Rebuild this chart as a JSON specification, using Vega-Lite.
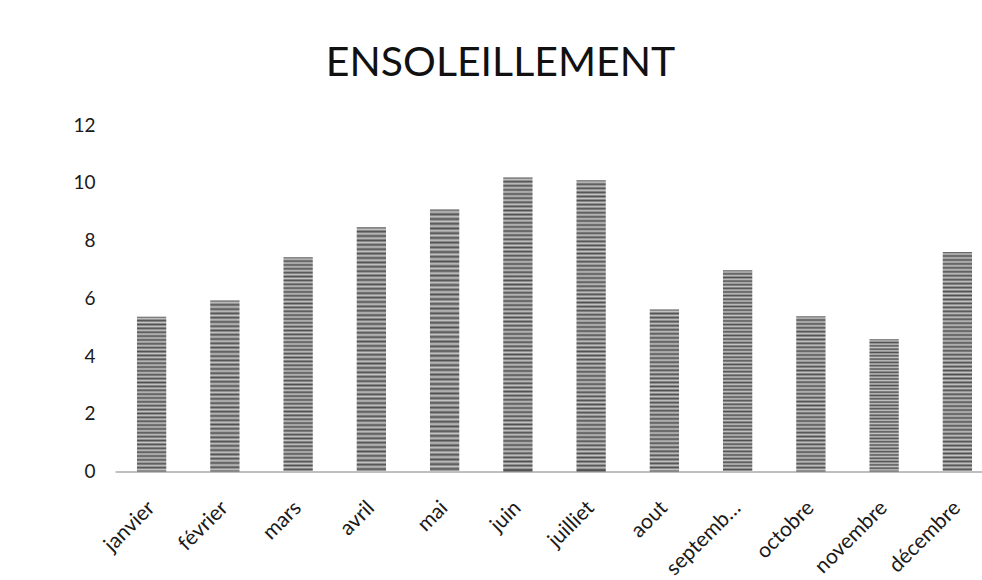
{
  "$schema": "https://vega.github.io/schema/vega-lite/v6.json",
  "autosize": "none",
  "width": 867,
  "height": 346.5,
  "padding": {"left": 115, "top": 125, "right": 0, "bottom": 108.5},
  "background": "white",
  "config": {"view": {"stroke": null}},
  "title": {
    "text": "ENSOLEILLEMENT",
    "font": "Lato",
    "fontSize": 41,
    "fontWeight": "normal",
    "color": "#111111",
    "anchor": "middle",
    "baseline": "alphabetic",
    "offset": -1,
    "dx": -48
  },
  "data": {
    "values": [
      {"mois": "janvier", "valeur": 5.36},
      {"mois": "février", "valeur": 5.92},
      {"mois": "mars", "valeur": 7.42},
      {"mois": "avril", "valeur": 8.46},
      {"mois": "mai", "valeur": 9.07},
      {"mois": "juin", "valeur": 10.18},
      {"mois": "juilliet", "valeur": 10.09},
      {"mois": "aout", "valeur": 5.61},
      {"mois": "septembre", "valeur": 6.97},
      {"mois": "octobre", "valeur": 5.38},
      {"mois": "novembre", "valeur": 4.58},
      {"mois": "décembre", "valeur": 7.6}
    ]
  },
  "mark": {"type": "bar"},
  "encoding": {
    "x": {
      "field": "mois",
      "type": "nominal",
      "sort": null,
      "scale": {"paddingInner": 0.6, "paddingOuter": 0.218, "align": 0.688},
      "axis": {
        "title": null,
        "ticks": false,
        "domainColor": "#bfbfbf",
        "domainWidth": 2,
        "labelAngle": -45,
        "labelAlign": "right",
        "labelBaseline": "middle",
        "labelPadding": 33,
        "labelFont": "Lato",
        "labelFontSize": 21,
        "labelColor": "#1a1a1a",
        "labelOverlap": false,
        "labelLimit": 200,
        "labelExpr": "datum.label == 'septembre' ? 'septemb…' : datum.label"
      }
    },
    "y": {
      "field": "valeur",
      "type": "quantitative",
      "scale": {"domain": [0, 12], "nice": false},
      "axis": {
        "title": null,
        "domain": false,
        "ticks": false,
        "grid": false,
        "values": [0, 2, 4, 6, 8, 10, 12],
        "labelPadding": 20,
        "labelFont": "Lato",
        "labelFontSize": 19,
        "labelColor": "#1a1a1a"
      }
    },
    "color": {
      "condition": [
        {
          "test": "datum.valeur > 9.5",
          "value": {
            "gradient": "linear", "x1": 0, "y1": 0, "x2": 0, "y2": 1,
            "stops": [
              {"offset":0,"color":"#505050"},{"offset":0.007,"color":"#c4c4c4"},{"offset":0.014,"color":"#505050"},{"offset":0.021,"color":"#c4c4c4"},{"offset":0.028,"color":"#505050"},{"offset":0.035,"color":"#c4c4c4"},{"offset":0.042,"color":"#505050"},{"offset":0.049,"color":"#c4c4c4"},{"offset":0.056,"color":"#505050"},{"offset":0.063,"color":"#c4c4c4"},
              {"offset":0.07,"color":"#505050"},{"offset":0.077,"color":"#c4c4c4"},{"offset":0.084,"color":"#505050"},{"offset":0.091,"color":"#c4c4c4"},{"offset":0.098,"color":"#505050"},{"offset":0.105,"color":"#c4c4c4"},{"offset":0.112,"color":"#505050"},{"offset":0.119,"color":"#c4c4c4"},{"offset":0.126,"color":"#505050"},{"offset":0.133,"color":"#c4c4c4"},
              {"offset":0.14,"color":"#505050"},{"offset":0.147,"color":"#c4c4c4"},{"offset":0.154,"color":"#505050"},{"offset":0.161,"color":"#c4c4c4"},{"offset":0.168,"color":"#505050"},{"offset":0.175,"color":"#c4c4c4"},{"offset":0.182,"color":"#505050"},{"offset":0.189,"color":"#c4c4c4"},{"offset":0.196,"color":"#505050"},{"offset":0.203,"color":"#c4c4c4"},
              {"offset":0.21,"color":"#505050"},{"offset":0.217,"color":"#c4c4c4"},{"offset":0.224,"color":"#505050"},{"offset":0.231,"color":"#c4c4c4"},{"offset":0.238,"color":"#505050"},{"offset":0.245,"color":"#c4c4c4"},{"offset":0.252,"color":"#505050"},{"offset":0.259,"color":"#c4c4c4"},{"offset":0.266,"color":"#505050"},{"offset":0.273,"color":"#c4c4c4"},
              {"offset":0.28,"color":"#505050"},{"offset":0.287,"color":"#c4c4c4"},{"offset":0.294,"color":"#505050"},{"offset":0.301,"color":"#c4c4c4"},{"offset":0.308,"color":"#505050"},{"offset":0.315,"color":"#c4c4c4"},{"offset":0.322,"color":"#505050"},{"offset":0.329,"color":"#c4c4c4"},{"offset":0.336,"color":"#505050"},{"offset":0.343,"color":"#c4c4c4"},
              {"offset":0.35,"color":"#505050"},{"offset":0.357,"color":"#c4c4c4"},{"offset":0.364,"color":"#505050"},{"offset":0.371,"color":"#c4c4c4"},{"offset":0.378,"color":"#505050"},{"offset":0.385,"color":"#c4c4c4"},{"offset":0.392,"color":"#505050"},{"offset":0.399,"color":"#c4c4c4"},{"offset":0.406,"color":"#505050"},{"offset":0.413,"color":"#c4c4c4"},
              {"offset":0.42,"color":"#505050"},{"offset":0.427,"color":"#c4c4c4"},{"offset":0.434,"color":"#505050"},{"offset":0.441,"color":"#c4c4c4"},{"offset":0.448,"color":"#505050"},{"offset":0.455,"color":"#c4c4c4"},{"offset":0.462,"color":"#505050"},{"offset":0.469,"color":"#c4c4c4"},{"offset":0.476,"color":"#505050"},{"offset":0.483,"color":"#c4c4c4"},
              {"offset":0.49,"color":"#505050"},{"offset":0.497,"color":"#c4c4c4"},{"offset":0.504,"color":"#505050"},{"offset":0.511,"color":"#c4c4c4"},{"offset":0.518,"color":"#505050"},{"offset":0.525,"color":"#c4c4c4"},{"offset":0.532,"color":"#505050"},{"offset":0.539,"color":"#c4c4c4"},{"offset":0.546,"color":"#505050"},{"offset":0.553,"color":"#c4c4c4"},
              {"offset":0.56,"color":"#505050"},{"offset":0.567,"color":"#c4c4c4"},{"offset":0.574,"color":"#505050"},{"offset":0.581,"color":"#c4c4c4"},{"offset":0.588,"color":"#505050"},{"offset":0.595,"color":"#c4c4c4"},{"offset":0.602,"color":"#505050"},{"offset":0.609,"color":"#c4c4c4"},{"offset":0.616,"color":"#505050"},{"offset":0.623,"color":"#c4c4c4"},
              {"offset":0.63,"color":"#505050"},{"offset":0.637,"color":"#c4c4c4"},{"offset":0.644,"color":"#505050"},{"offset":0.651,"color":"#c4c4c4"},{"offset":0.658,"color":"#505050"},{"offset":0.665,"color":"#c4c4c4"},{"offset":0.672,"color":"#505050"},{"offset":0.679,"color":"#c4c4c4"},{"offset":0.686,"color":"#505050"},{"offset":0.693,"color":"#c4c4c4"},
              {"offset":0.7,"color":"#505050"},{"offset":0.707,"color":"#c4c4c4"},{"offset":0.714,"color":"#505050"},{"offset":0.721,"color":"#c4c4c4"},{"offset":0.728,"color":"#505050"},{"offset":0.735,"color":"#c4c4c4"},{"offset":0.742,"color":"#505050"},{"offset":0.749,"color":"#c4c4c4"},{"offset":0.756,"color":"#505050"},{"offset":0.763,"color":"#c4c4c4"},
              {"offset":0.77,"color":"#505050"},{"offset":0.777,"color":"#c4c4c4"},{"offset":0.784,"color":"#505050"},{"offset":0.791,"color":"#c4c4c4"},{"offset":0.798,"color":"#505050"},{"offset":0.805,"color":"#c4c4c4"},{"offset":0.812,"color":"#505050"},{"offset":0.819,"color":"#c4c4c4"},{"offset":0.826,"color":"#505050"},{"offset":0.833,"color":"#c4c4c4"},
              {"offset":0.84,"color":"#505050"},{"offset":0.847,"color":"#c4c4c4"},{"offset":0.854,"color":"#505050"},{"offset":0.861,"color":"#c4c4c4"},{"offset":0.868,"color":"#505050"},{"offset":0.875,"color":"#c4c4c4"},{"offset":0.882,"color":"#505050"},{"offset":0.889,"color":"#c4c4c4"},{"offset":0.896,"color":"#505050"},{"offset":0.903,"color":"#c4c4c4"},
              {"offset":0.91,"color":"#505050"},{"offset":0.917,"color":"#c4c4c4"},{"offset":0.924,"color":"#505050"},{"offset":0.931,"color":"#c4c4c4"},{"offset":0.938,"color":"#505050"},{"offset":0.945,"color":"#c4c4c4"},{"offset":0.952,"color":"#505050"},{"offset":0.959,"color":"#c4c4c4"},{"offset":0.966,"color":"#505050"},{"offset":0.973,"color":"#c4c4c4"},
              {"offset":0.98,"color":"#505050"},{"offset":0.987,"color":"#c4c4c4"},{"offset":0.994,"color":"#505050"}
            ]
          }
        },
        {
          "test": "datum.valeur > 6.5",
          "value": {
            "gradient": "linear", "x1": 0, "y1": 0, "x2": 0, "y2": 1,
            "stops": [
              {"offset":0,"color":"#505050"},{"offset":0.009,"color":"#c4c4c4"},{"offset":0.018,"color":"#505050"},{"offset":0.027,"color":"#c4c4c4"},{"offset":0.036,"color":"#505050"},{"offset":0.045,"color":"#c4c4c4"},{"offset":0.054,"color":"#505050"},{"offset":0.063,"color":"#c4c4c4"},{"offset":0.072,"color":"#505050"},{"offset":0.081,"color":"#c4c4c4"},
              {"offset":0.09,"color":"#505050"},{"offset":0.099,"color":"#c4c4c4"},{"offset":0.108,"color":"#505050"},{"offset":0.117,"color":"#c4c4c4"},{"offset":0.126,"color":"#505050"},{"offset":0.135,"color":"#c4c4c4"},{"offset":0.144,"color":"#505050"},{"offset":0.153,"color":"#c4c4c4"},{"offset":0.162,"color":"#505050"},{"offset":0.171,"color":"#c4c4c4"},
              {"offset":0.18,"color":"#505050"},{"offset":0.189,"color":"#c4c4c4"},{"offset":0.198,"color":"#505050"},{"offset":0.207,"color":"#c4c4c4"},{"offset":0.216,"color":"#505050"},{"offset":0.225,"color":"#c4c4c4"},{"offset":0.234,"color":"#505050"},{"offset":0.243,"color":"#c4c4c4"},{"offset":0.252,"color":"#505050"},{"offset":0.261,"color":"#c4c4c4"},
              {"offset":0.27,"color":"#505050"},{"offset":0.279,"color":"#c4c4c4"},{"offset":0.288,"color":"#505050"},{"offset":0.297,"color":"#c4c4c4"},{"offset":0.306,"color":"#505050"},{"offset":0.315,"color":"#c4c4c4"},{"offset":0.324,"color":"#505050"},{"offset":0.333,"color":"#c4c4c4"},{"offset":0.342,"color":"#505050"},{"offset":0.351,"color":"#c4c4c4"},
              {"offset":0.36,"color":"#505050"},{"offset":0.369,"color":"#c4c4c4"},{"offset":0.378,"color":"#505050"},{"offset":0.387,"color":"#c4c4c4"},{"offset":0.396,"color":"#505050"},{"offset":0.405,"color":"#c4c4c4"},{"offset":0.414,"color":"#505050"},{"offset":0.423,"color":"#c4c4c4"},{"offset":0.432,"color":"#505050"},{"offset":0.441,"color":"#c4c4c4"},
              {"offset":0.45,"color":"#505050"},{"offset":0.459,"color":"#c4c4c4"},{"offset":0.468,"color":"#505050"},{"offset":0.477,"color":"#c4c4c4"},{"offset":0.486,"color":"#505050"},{"offset":0.495,"color":"#c4c4c4"},{"offset":0.504,"color":"#505050"},{"offset":0.513,"color":"#c4c4c4"},{"offset":0.522,"color":"#505050"},{"offset":0.531,"color":"#c4c4c4"},
              {"offset":0.54,"color":"#505050"},{"offset":0.549,"color":"#c4c4c4"},{"offset":0.558,"color":"#505050"},{"offset":0.567,"color":"#c4c4c4"},{"offset":0.576,"color":"#505050"},{"offset":0.585,"color":"#c4c4c4"},{"offset":0.594,"color":"#505050"},{"offset":0.603,"color":"#c4c4c4"},{"offset":0.612,"color":"#505050"},{"offset":0.621,"color":"#c4c4c4"},
              {"offset":0.63,"color":"#505050"},{"offset":0.639,"color":"#c4c4c4"},{"offset":0.648,"color":"#505050"},{"offset":0.657,"color":"#c4c4c4"},{"offset":0.666,"color":"#505050"},{"offset":0.675,"color":"#c4c4c4"},{"offset":0.684,"color":"#505050"},{"offset":0.693,"color":"#c4c4c4"},{"offset":0.702,"color":"#505050"},{"offset":0.711,"color":"#c4c4c4"},
              {"offset":0.72,"color":"#505050"},{"offset":0.729,"color":"#c4c4c4"},{"offset":0.738,"color":"#505050"},{"offset":0.747,"color":"#c4c4c4"},{"offset":0.756,"color":"#505050"},{"offset":0.765,"color":"#c4c4c4"},{"offset":0.774,"color":"#505050"},{"offset":0.783,"color":"#c4c4c4"},{"offset":0.792,"color":"#505050"},{"offset":0.801,"color":"#c4c4c4"},
              {"offset":0.81,"color":"#505050"},{"offset":0.819,"color":"#c4c4c4"},{"offset":0.828,"color":"#505050"},{"offset":0.837,"color":"#c4c4c4"},{"offset":0.846,"color":"#505050"},{"offset":0.855,"color":"#c4c4c4"},{"offset":0.864,"color":"#505050"},{"offset":0.873,"color":"#c4c4c4"},{"offset":0.882,"color":"#505050"},{"offset":0.891,"color":"#c4c4c4"},
              {"offset":0.9,"color":"#505050"},{"offset":0.909,"color":"#c4c4c4"},{"offset":0.918,"color":"#505050"},{"offset":0.927,"color":"#c4c4c4"},{"offset":0.936,"color":"#505050"},{"offset":0.945,"color":"#c4c4c4"},{"offset":0.954,"color":"#505050"},{"offset":0.963,"color":"#c4c4c4"},{"offset":0.972,"color":"#505050"},{"offset":0.981,"color":"#c4c4c4"},
              {"offset":0.99,"color":"#505050"},{"offset":0.999,"color":"#c4c4c4"}
            ]
          }
        }
      ],
      "value": {
        "gradient": "linear", "x1": 0, "y1": 0, "x2": 0, "y2": 1,
        "stops": [
          {"offset":0,"color":"#505050"},{"offset":0.0125,"color":"#c4c4c4"},{"offset":0.025,"color":"#505050"},{"offset":0.0375,"color":"#c4c4c4"},{"offset":0.05,"color":"#505050"},{"offset":0.0625,"color":"#c4c4c4"},{"offset":0.075,"color":"#505050"},{"offset":0.0875,"color":"#c4c4c4"},
          {"offset":0.1,"color":"#505050"},{"offset":0.1125,"color":"#c4c4c4"},{"offset":0.125,"color":"#505050"},{"offset":0.1375,"color":"#c4c4c4"},{"offset":0.15,"color":"#505050"},{"offset":0.1625,"color":"#c4c4c4"},{"offset":0.175,"color":"#505050"},{"offset":0.1875,"color":"#c4c4c4"},
          {"offset":0.2,"color":"#505050"},{"offset":0.2125,"color":"#c4c4c4"},{"offset":0.225,"color":"#505050"},{"offset":0.2375,"color":"#c4c4c4"},{"offset":0.25,"color":"#505050"},{"offset":0.2625,"color":"#c4c4c4"},{"offset":0.275,"color":"#505050"},{"offset":0.2875,"color":"#c4c4c4"},
          {"offset":0.3,"color":"#505050"},{"offset":0.3125,"color":"#c4c4c4"},{"offset":0.325,"color":"#505050"},{"offset":0.3375,"color":"#c4c4c4"},{"offset":0.35,"color":"#505050"},{"offset":0.3625,"color":"#c4c4c4"},{"offset":0.375,"color":"#505050"},{"offset":0.3875,"color":"#c4c4c4"},
          {"offset":0.4,"color":"#505050"},{"offset":0.4125,"color":"#c4c4c4"},{"offset":0.425,"color":"#505050"},{"offset":0.4375,"color":"#c4c4c4"},{"offset":0.45,"color":"#505050"},{"offset":0.4625,"color":"#c4c4c4"},{"offset":0.475,"color":"#505050"},{"offset":0.4875,"color":"#c4c4c4"},
          {"offset":0.5,"color":"#505050"},{"offset":0.5125,"color":"#c4c4c4"},{"offset":0.525,"color":"#505050"},{"offset":0.5375,"color":"#c4c4c4"},{"offset":0.55,"color":"#505050"},{"offset":0.5625,"color":"#c4c4c4"},{"offset":0.575,"color":"#505050"},{"offset":0.5875,"color":"#c4c4c4"},
          {"offset":0.6,"color":"#505050"},{"offset":0.6125,"color":"#c4c4c4"},{"offset":0.625,"color":"#505050"},{"offset":0.6375,"color":"#c4c4c4"},{"offset":0.65,"color":"#505050"},{"offset":0.6625,"color":"#c4c4c4"},{"offset":0.675,"color":"#505050"},{"offset":0.6875,"color":"#c4c4c4"},
          {"offset":0.7,"color":"#505050"},{"offset":0.7125,"color":"#c4c4c4"},{"offset":0.725,"color":"#505050"},{"offset":0.7375,"color":"#c4c4c4"},{"offset":0.75,"color":"#505050"},{"offset":0.7625,"color":"#c4c4c4"},{"offset":0.775,"color":"#505050"},{"offset":0.7875,"color":"#c4c4c4"},
          {"offset":0.8,"color":"#505050"},{"offset":0.8125,"color":"#c4c4c4"},{"offset":0.825,"color":"#505050"},{"offset":0.8375,"color":"#c4c4c4"},{"offset":0.85,"color":"#505050"},{"offset":0.8625,"color":"#c4c4c4"},{"offset":0.875,"color":"#505050"},{"offset":0.8875,"color":"#c4c4c4"},
          {"offset":0.9,"color":"#505050"},{"offset":0.9125,"color":"#c4c4c4"},{"offset":0.925,"color":"#505050"},{"offset":0.9375,"color":"#c4c4c4"},{"offset":0.95,"color":"#505050"},{"offset":0.9625,"color":"#c4c4c4"},{"offset":0.975,"color":"#505050"},{"offset":0.9875,"color":"#c4c4c4"},
          {"offset":1,"color":"#505050"}
        ]
      }
    }
  }
}
